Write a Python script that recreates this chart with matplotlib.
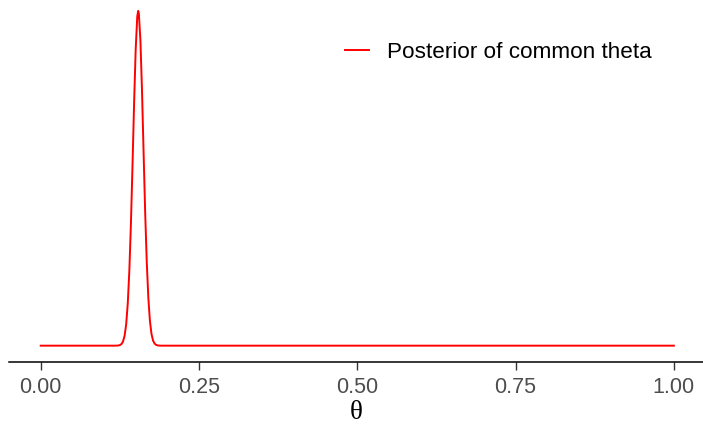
import matplotlib
matplotlib.use("Agg")
import matplotlib.pyplot as plt

# posterior density (zero away from the peak)
theta = [0.0, 0.10, 0.1175, 0.1200, 0.1225, 0.1250, 0.1275, 0.1300, 0.1325, 0.1350,
         0.1375, 0.1400, 0.1425, 0.1450, 0.1475, 0.1500, 0.1525, 0.1540,
         0.1550, 0.1575, 0.1600, 0.1625, 0.1650, 0.1675, 0.1700, 0.1725,
         0.1750, 0.1775, 0.1800, 0.1825, 0.1850, 0.1875, 0.1900, 0.20, 1.0]
density = [0.0, 0.0, 0.001, 0.007, 0.026, 0.081, 0.23, 0.61, 1.46, 3.15,
           6.22, 11.07, 18.0, 26.6, 35.7, 43.6, 48.5, 49.3,
           48.9, 44.9, 37.5, 28.4, 19.6, 12.3, 7.0, 3.63,
           1.71, 0.73, 0.29, 0.10, 0.03, 0.01, 0.0, 0.0, 0.0]
xticks = [0.0, 0.25, 0.5, 0.75, 1.0]
xticklabels = ["0.00", "0.25", "0.50", "0.75", "1.00"]

plt.rcParams['font.family'] = ['Liberation Sans', 'DejaVu Sans']

fig = plt.figure(figsize=(7.03, 4.25), dpi=100)
ax = fig.add_axes([9.3 / 703, 1 - 362.3 / 425, 1 - 9.3 / 703, 362.3 / 425])

ax.plot(theta, density, color='red', lw=1.4, label='Posterior of common theta',
        solid_joinstyle='round')

ax.set_xlim(-0.0496, 1.046)
ax.set_ylim(-2.45, 50.9)
ax.set_xticks(xticks)
ax.set_xticklabels(xticklabels)
ax.set_yticks([])
for s in ['top', 'right', 'left']:
    ax.spines[s].set_visible(False)
ax.spines['bottom'].set_linewidth(1.1)
ax.tick_params(axis='x', length=5.5, width=1.0, color='#333333',
               labelsize=15.5, labelcolor='#4D4D4D', pad=5)
ax.set_xlabel('θ', family='Liberation Serif', fontsize=19.5, labelpad=1.5)

leg = ax.legend(loc='upper left', bbox_to_anchor=(345 / 703, 1 - 42 / 425),
                bbox_transform=fig.transFigure, frameon=False, fontsize=16.2,
                handlelength=1.08, handletextpad=0.8, borderpad=0,
                borderaxespad=0)

fig.savefig('out.png', dpi=100)
